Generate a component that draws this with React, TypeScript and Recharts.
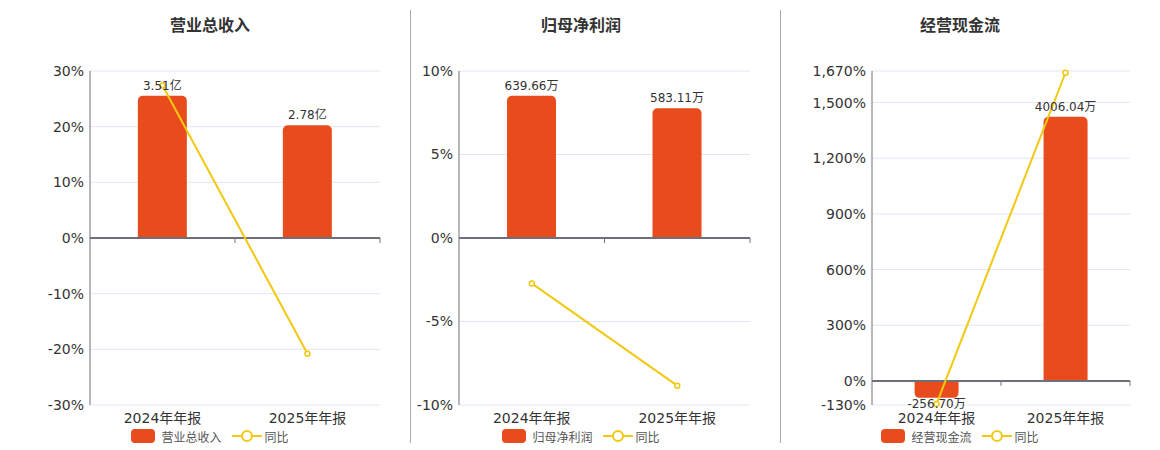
import React from 'react'
import {
  ComposedChart,
  Bar,
  Line,
  XAxis,
  YAxis,
  CartesianGrid,
  ReferenceLine,
  LabelList
} from 'recharts'

// 报告期
const years = ['2024年年报', '2025年年报']

// 营业总收入（亿）及同比
const revenueValues = [3.51, 2.78]
const revenueYoy = [27.4, -20.8]
const revenueTicks = [-30, -20, -10, 0, 10, 20, 30]

// 归母净利润（万）及同比
const profitValues = [639.66, 583.11]
const profitYoy = [-2.72, -8.84]
const profitTicks = [-10, -5, 0, 5, 10]

// 经营现金流（万）及同比
const cashValues = [-256.7, 4006.04]
const cashYoy = [-124, 1660.61]
const cashTicks = [-130, 0, 300, 600, 900, 1200, 1500, 1670]

const BAR_COLOR = '#e84c1d'
const LINE_COLOR = '#f2c811'
const AXIS_COLOR = '#6e7079'
const GRID_COLOR = '#e0e6f1'
const FONT = '"DejaVu Sans", "Noto Sans CJK SC", sans-serif'

const fmtPct = (v: number) => `${v.toLocaleString('en-US')}%`

const makeValueLabel = (unit: string) => (props: any) => {
  const vb = props.viewBox || props
  const x = vb.x
  const w = vb.width
  const y = vb.y
  const h = vb.height
  const value = Number(props.value)
  const top = Math.min(y, y + h)
  const bottom = Math.max(y, y + h)
  const neg = value < 0
  return (
    <text
      x={x + w / 2}
      y={neg ? bottom + 10 : top - 6}
      textAnchor="middle"
      fontSize={12}
      fill="#333"
      fontFamily={FONT}
    >
      {value.toFixed(2) + unit}
    </text>
  )
}

// 0 轴线，带分类边界的小刻度
const makeZeroLine = (n: number) => (props: any) => {
  const { x1, y1, x2, y2 } = props
  const marks = []
  for (let k = 1; k <= n; k++) {
    const x = x1 + ((x2 - x1) * k) / n
    marks.push(<line key={k} x1={x} x2={x} y1={y1} y2={y1 + 5} stroke={AXIS_COLOR} strokeWidth={1} />)
  }
  return (
    <g>
      <line x1={x1} y1={y1} x2={x2} y2={y2} stroke={AXIS_COLOR} strokeWidth={2} />
      {marks}
    </g>
  )
}

interface PanelProps {
  title: string
  seriesName: string
  unit: string
  values: number[]
  yoy: number[]
  pctTicks: number[]
  valDomain: [number, number]
  left: number
  width: number
  yAxisWidth: number
  rightMargin: number
  center: number
}

const Panel: React.FC<PanelProps> = ({
  title,
  seriesName,
  unit,
  values,
  yoy,
  pctTicks,
  valDomain,
  left,
  width,
  yAxisWidth,
  rightMargin,
  center
}) => {
  const data = years.map((year, i) => ({ year, value: values[i], yoy: yoy[i] }))
  const pctDomain = [pctTicks[0], pctTicks[pctTicks.length - 1]]

  return (
    <>
      <div
        style={{
          position: 'absolute',
          left: center - 150,
          width: 300,
          top: 12,
          textAlign: 'center',
          fontSize: 16,
          fontWeight: 'bold',
          color: '#333',
          fontFamily: FONT
        }}
      >
        {title}
      </div>
      <div style={{ position: 'absolute', left, top: 0 }}>
        <ComposedChart
          width={width}
          height={450}
          data={data}
          margin={{ top: 71, right: rightMargin, bottom: 15, left: 0 }}
          barCategoryGap="33%"
        >
          <CartesianGrid yAxisId="pct" vertical={false} stroke={GRID_COLOR} />
          <XAxis
            dataKey="year"
            axisLine={false}
            tickLine={false}
            tickSize={0}
            tickMargin={8}
            height={30}
            tick={{ fontSize: 14, fill: '#333', fontFamily: FONT }}
          />
          <YAxis
            yAxisId="pct"
            domain={pctDomain}
            ticks={pctTicks}
            interval={0}
            width={yAxisWidth}
            axisLine={{ stroke: AXIS_COLOR }}
            tickLine={false}
            tickSize={0}
            tickMargin={6}
            tickFormatter={fmtPct}
            tick={{ fontSize: 14, fill: '#333', fontFamily: FONT }}
          />
          <YAxis yAxisId="val" orientation="right" hide domain={valDomain} />
          <Bar
            yAxisId="val"
            dataKey="value"
            name={seriesName}
            fill={BAR_COLOR}
            radius={[5, 5, 0, 0]}
            isAnimationActive={false}
          >
            <LabelList dataKey="value" content={makeValueLabel(unit)} />
          </Bar>
          <ReferenceLine yAxisId="pct" y={0} shape={makeZeroLine(years.length)} />
          <Line
            yAxisId="pct"
            dataKey="yoy"
            name="同比"
            stroke={LINE_COLOR}
            strokeWidth={2}
            dot={{ r: 2.5, fill: '#fff', stroke: LINE_COLOR, strokeWidth: 1.5 }}
            isAnimationActive={false}
          />
        </ComposedChart>
      </div>
      <div
        style={{
          position: 'absolute',
          left: center - 150,
          width: 300,
          top: 429,
          display: 'flex',
          justifyContent: 'center',
          alignItems: 'center',
          height: 14,
          fontSize: 12,
          color: '#555',
          fontFamily: FONT
        }}
      >
        <span style={{ width: 24, height: 14, background: BAR_COLOR, borderRadius: 4, marginRight: 6 }} />
        <span style={{ marginRight: 10 }}>{seriesName}</span>
        <svg width={30} height={14} style={{ marginRight: 3 }}>
          <line x1={0} x2={30} y1={7} y2={7} stroke={LINE_COLOR} strokeWidth={2} />
          <circle cx={15} cy={7} r={5} fill="#fff" stroke={LINE_COLOR} strokeWidth={2} />
        </svg>
        <span>同比</span>
      </div>
    </>
  )
}

export default function App() {
  return (
    <div
      style={{
        position: 'absolute',
        left: 0,
        top: 0,
        width: 1160,
        height: 450,
        background: '#fff',
        overflow: 'hidden'
      }}
    >
      <Panel
        title="营业总收入"
        seriesName="营业总收入"
        unit="亿"
        values={revenueValues}
        yoy={revenueYoy}
        pctTicks={revenueTicks}
        valDomain={[-4.12, 4.12]}
        left={0}
        width={400}
        yAxisWidth={90}
        rightMargin={20}
        center={210}
      />
      <div style={{ position: 'absolute', left: 410, top: 10, width: 1, height: 433, background: '#aaa' }} />
      <Panel
        title="归母净利润"
        seriesName="归母净利润"
        unit="万"
        values={profitValues}
        yoy={profitYoy}
        pctTicks={profitTicks}
        valDomain={[-751, 751]}
        left={410}
        width={350}
        yAxisWidth={49}
        rightMargin={10}
        center={581}
      />
      <div style={{ position: 'absolute', left: 780, top: 10, width: 1, height: 433, background: '#aaa' }} />
      <Panel
        title="经营现金流"
        seriesName="经营现金流"
        unit="万"
        values={cashValues}
        yoy={cashYoy}
        pctTicks={cashTicks}
        valDomain={[-365, 4700]}
        left={780}
        width={360}
        yAxisWidth={92}
        rightMargin={10}
        center={960}
      />
    </div>
  )
}
